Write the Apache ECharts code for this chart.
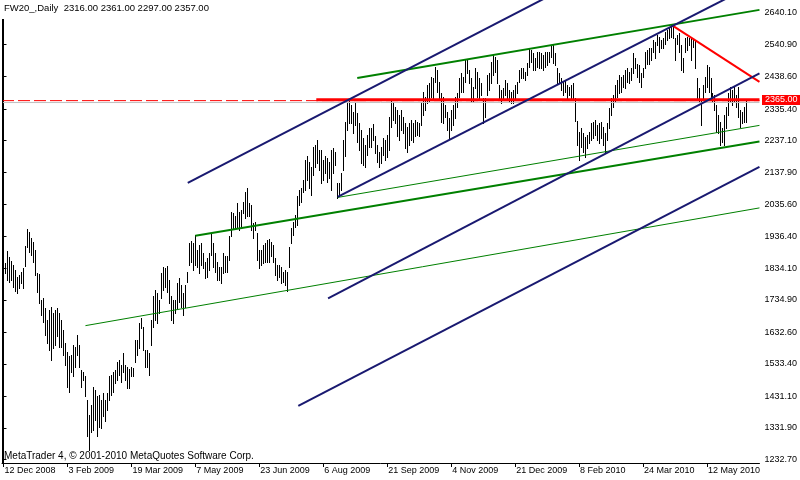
<!DOCTYPE html>
<html>
<head>
<meta charset="utf-8">
<script src="https://cdn.jsdelivr.net/npm/echarts@6/dist/echarts.min.js"></script>
<style>
  html, body { margin: 0; padding: 0; background: #fff; }
  #chart { width: 800px; height: 480px; }
</style>
</head>
<body>
<div id="chart"></div>
<script>
// daily bars FW20, high / low per bar (bar 0 = 12 Dec 2008)
const highs = [
  1832, 1850, 1890, 1869, 1859, 1845, 1830, 1808, 1814, 1824,
  1835, 1905, 1958, 1950, 1929, 1919, 1892, 1819, 1816, 1735,
  1740, 1709, 1672, 1704, 1714, 1693, 1704, 1709, 1693, 1672,
  1641, 1599, 1572, 1557, 1562, 1593, 1588, 1625, 1593, 1515,
  1509, 1494, 1420, 1373, 1404, 1462, 1452, 1431, 1436, 1420,
  1441, 1420, 1441, 1494, 1499, 1509, 1515, 1541, 1546, 1530,
  1567, 1530, 1525, 1517, 1525, 1520, 1609, 1609, 1662, 1677,
  1651, 1578, 1578, 1567, 1672, 1746, 1767, 1756, 1735, 1819,
  1840, 1835, 1842, 1798, 1746, 1735, 1735, 1788, 1803, 1782,
  1756, 1782, 1824, 1915,
  1922, 1914, 1940, 1893, 1908, 1914, 1882, 1856, 1866, 1882,
  1945, 1914, 1882, 1856, 1840, 1840, 1882, 1872, 1872, 1935,
  2013, 2008, 1998, 2040, 2013, 2019, 2045, 2076, 2087, 2040,
  2034, 1977, 1982, 1945, 1893, 1893, 1908, 1914, 1924, 1926,
  1919, 1908, 1866, 1845, 1845, 1840, 1824, 1830, 1824, 1903,
  1961, 1982, 2003, 2061, 2082, 2087, 2113, 2176, 2187, 2171,
  2155, 2218, 2223, 2239, 2208, 2208, 2176, 2187, 2181, 2171,
  2208, 2213, 2202, 2103, 2103, 2134, 2239, 2297, 2355, 2365,
  2349, 2328, 2355, 2323, 2292, 2271, 2244, 2223, 2255, 2276,
  2276, 2290,
  2250, 2223, 2202, 2218, 2244, 2239, 2255, 2313, 2365, 2360,
  2344, 2334, 2318, 2334, 2313, 2292, 2281, 2292, 2302, 2292,
  2302, 2297, 2292, 2360, 2391, 2376, 2412, 2418, 2438, 2433,
  2470, 2460, 2423, 2386, 2376, 2349, 2328, 2307, 2334, 2349,
  2376, 2386, 2433, 2449, 2438, 2491, 2491, 2460, 2433, 2407,
  2465, 2454, 2433, 2418, 2370, 2370, 2444, 2449, 2486, 2507,
  2502, 2491, 2412, 2397, 2402, 2428, 2418, 2397, 2391, 2397,
  2412, 2423, 2460, 2465, 2465, 2454, 2481, 2528, 2522, 2512,
  2496, 2517, 2517, 2512, 2507, 2517, 2517, 2517, 2538, 2538,
  2512, 2465, 2449,
  2433, 2423, 2428, 2412, 2407, 2412, 2417, 2370, 2299, 2265,
  2276, 2260, 2249, 2255, 2265, 2291, 2297, 2302, 2286, 2291,
  2297, 2281, 2260, 2291, 2339, 2370, 2381, 2412, 2428, 2444,
  2438, 2444, 2459, 2465, 2454, 2465, 2512, 2496, 2480, 2475,
  2449, 2465, 2517, 2522, 2528, 2528, 2554, 2549, 2570, 2564,
  2554, 2559, 2580, 2585, 2596, 2601, 2596, 2559, 2570, 2575,
  2538, 2496, 2559, 2564, 2559, 2564, 2554, 2554, 2433, 2402,
  2365, 2412, 2438, 2475, 2470, 2433, 2386, 2381, 2349, 2318,
  2297, 2276, 2318, 2344, 2386, 2407, 2396, 2407, 2381, 2407,
  2333, 2328, 2344, 2361
];
const lows = [
  1783, 1819, 1798, 1793, 1798, 1777, 1763, 1756, 1772, 1788,
  1772, 1842, 1903, 1887, 1877, 1856, 1814, 1761, 1725, 1688,
  1667, 1625, 1599, 1578, 1546, 1583, 1593, 1620, 1588, 1588,
  1562, 1530, 1462, 1446, 1509, 1494, 1525, 1562, 1525, 1462,
  1483, 1431, 1305, 1263, 1320, 1326, 1357, 1305, 1336, 1331,
  1368, 1352, 1389, 1420, 1436, 1446, 1473, 1483, 1499, 1478,
  1509, 1483, 1457, 1457, 1494, 1494, 1541, 1562, 1583, 1646,
  1578, 1525, 1525, 1499, 1593, 1651, 1672, 1662, 1693, 1740,
  1767, 1777, 1761, 1725, 1672, 1662, 1693, 1709, 1730, 1714,
  1688, 1714, 1793, 1845,
  1856, 1830, 1845, 1840, 1819, 1845, 1835, 1803, 1808, 1830,
  1877, 1840, 1824, 1798, 1798, 1788, 1819, 1824, 1824, 1861,
  1935, 1961, 1961, 1966, 1956, 1966, 2008, 1992, 1998, 1998,
  1956, 1929, 1956, 1861, 1835, 1845, 1850, 1856, 1856, 1856,
  1872, 1856, 1814, 1798, 1808, 1788, 1793, 1782, 1764, 1840,
  1914, 1940, 1966, 1971, 2034, 2045, 2076, 2082, 2113, 2087,
  2066, 2129, 2155, 2166, 2145, 2103, 2113, 2134, 2108, 2118,
  2082, 2134, 2160, 2055, 2061, 2082, 2145, 2187, 2271, 2292,
  2292, 2260, 2286, 2234, 2208, 2166, 2160, 2155, 2192, 2218,
  2218, 2240,
  2197, 2171, 2155, 2166, 2192, 2176, 2186, 2208, 2281, 2302,
  2292, 2250, 2239, 2271, 2260, 2213, 2202, 2223, 2239, 2234,
  2250, 2255, 2250, 2286, 2318, 2334, 2354, 2360, 2376, 2370,
  2423, 2391, 2370, 2297, 2292, 2313, 2271, 2244, 2271, 2286,
  2307, 2344, 2376, 2391, 2391, 2423, 2449, 2418, 2360, 2360,
  2402, 2376, 2365, 2381, 2292, 2313, 2381, 2397, 2418, 2444,
  2454, 2418, 2365, 2355, 2365, 2381, 2365, 2360, 2355, 2355,
  2370, 2386, 2423, 2433, 2433, 2428, 2444, 2470, 2486, 2460,
  2460, 2470, 2465, 2465, 2460, 2470, 2475, 2486, 2502, 2481,
  2475, 2418, 2418,
  2396, 2381, 2391, 2370, 2381, 2370, 2370, 2299, 2223, 2176,
  2218, 2202, 2186, 2213, 2228, 2239, 2244, 2255, 2239, 2228,
  2244, 2223, 2197, 2239, 2276, 2318, 2344, 2360, 2375, 2386,
  2391, 2407, 2402, 2423, 2417, 2428, 2449, 2465, 2438, 2423,
  2407, 2438, 2465, 2480, 2480, 2491, 2517, 2496, 2538, 2517,
  2528, 2528, 2543, 2554, 2559, 2564, 2559, 2491, 2543, 2517,
  2459, 2454, 2517, 2522, 2538, 2491, 2533, 2465, 2365, 2360,
  2286, 2365, 2391, 2407, 2391, 2370, 2360, 2333, 2265, 2260,
  2223, 2234, 2223, 2276, 2318, 2360, 2349, 2360, 2344, 2312,
  2281, 2291, 2297, 2297
];

// date labels, one every 32 bars
const dateLabels = ['12 Dec 2008', '3 Feb 2009', '19 Mar 2009', '7 May 2009', '23 Jun 2009', '6 Aug 2009',
  '21 Sep 2009', '4 Nov 2009', '21 Dec 2009', '8 Feb 2010', '24 Mar 2010', '12 May 2010'];
const priceTicks = [2640.1, 2540.9, 2438.6, 2335.4, 2237.1, 2137.9, 2035.6, 1936.4,
  1834.1, 1734.9, 1632.6, 1533.4, 1431.1, 1331.9, 1232.7];

// trend lines: [bar, price] anchors
const navyLines = [
  [[92.2, 2104], [275, 2699]],
  [[167.2, 2060], [378.25, 2738]],
  [[162.4, 1740], [378.25, 2449]],
  [[147.5, 1401], [378.25, 2154]]
];
const greenThick = [
  [[177, 2434], [378.25, 2649]],
  [[96, 1937], [378.25, 2234]]
];
const greenThin = [
  [[167.2, 2058], [378.25, 2285]],
  [[41, 1654], [378.25, 2025]]
];
const redDown = [[334.4, 2601], [378.25, 2422]];
const redThick = [[156.5, 2366], [378.25, 2366]];
const redDashLevel = 2363;
const alertPrice = 2365;
const bidPrice = 2357;

const X_MIN = -0.75, X_MAX = 378.25;

const chart = echarts.init(document.getElementById('chart'));

function trend(data, color, width, type) {
  return {
    type: 'line',
    data: data,
    symbol: 'none',
    silent: true,
    animation: false,
    z: 5,
    lineStyle: { color: color, width: width, type: type || 'solid' }
  };
}

const series = [
  trend([[X_MIN, bidPrice], [X_MAX, bidPrice]], '#c0c0c0', 1),
  {
    type: 'custom',
    z: 3,
    animation: false,
    silent: true,
    data: highs.map((h, i) => [i, h, lows[i]]),
    encode: { x: 0, y: [1, 2] },
    renderItem: function (params, api) {
      const i = api.value(0);
      const top = api.coord([i, api.value(1)]);
      const bot = api.coord([i, api.value(2)]);
      const x = Math.floor(top[0]) + 0.5;
      return {
        type: 'line',
        shape: { x1: x, y1: Math.round(top[1]), x2: x, y2: Math.round(bot[1]) + 1 },
        style: { stroke: '#000', lineWidth: 1 }
      };
    }
  },
  trend([[X_MIN, redDashLevel], [X_MAX, redDashLevel]], '#ff0000', 1, [12, 4]),
  trend(redThick, '#ff0000', 3),
  trend(redDown, '#ff0000', 2)
];
greenThin.forEach(l => series.push(trend(l, '#008000', 1)));
greenThick.forEach(l => series.push(trend(l, '#008000', 2)));
navyLines.forEach(l => series.push(trend(l, '#191970', 2)));

const option = {
  backgroundColor: '#fff',
  animation: false,
  grid: { left: 2, right: 40, top: 0, bottom: 17 },
  xAxis: {
    type: 'value',
    min: X_MIN,
    max: X_MAX,
    splitLine: { show: false },
    axisLine: { show: true, lineStyle: { color: '#000' } },
    axisTick: { show: true, length: 4, lineStyle: { color: '#000' }, customValues: dateLabels.map((d, k) => k * 32) },
    axisLabel: {
      customValues: dateLabels.map((d, k) => k * 32),
      formatter: v => dateLabels[Math.round(v / 32)],
      align: 'left',
      margin: 3,
      padding: [0, 0, 0, 1],
      color: '#000',
      fontFamily: 'Liberation Sans',
      fontSize: 9
    }
  },
  yAxis: {
    type: 'value',
    position: 'right',
    min: 1221.2,
    max: 2680.1,
    splitLine: { show: false },
    axisLine: { show: true, lineStyle: { color: '#000' } },
    axisTick: { show: true, length: 3, lineStyle: { color: '#000' }, customValues: priceTicks },
    axisLabel: {
      customValues: priceTicks,
      formatter: v => v.toFixed(2),
      margin: 5,
      color: '#000',
      fontFamily: 'Liberation Sans',
      fontSize: 9
    }
  },
  series: series
};
chart.setOption(option);

// header, copyright, left frame and the price label of the alert level
const ay = chart.convertToPixel({ yAxisIndex: 0 }, alertPrice);
chart.setOption({
  graphic: [
    {
      type: 'line', z: 90,
      shape: { x1: 2.5, y1: 19, x2: 2.5, y2: 463 },
      style: { stroke: '#000', lineWidth: 1 }
    },
    {
      type: 'rect', left: 0, top: 0, z: 100,
      shape: { width: 212, height: 19 },
      style: { fill: '#fff' }
    },
    {
      type: 'text', left: 4, top: 3, z: 101,
      style: { text: 'FW20_,Daily  2316.00 2361.00 2297.00 2357.00', fill: '#000', font: '9.5px "Liberation Sans"' }
    },
    {
      type: 'text', left: 4, top: 451, z: 101,
      style: { text: 'MetaTrader 4, \u00a9 2001-2010 MetaQuotes Software Corp.', fill: '#000', font: '10px "Liberation Sans"' }
    },
    {
      type: 'rect', left: 762, top: Math.round(ay) - 5, z: 100,
      shape: { width: 38, height: 10 },
      style: { fill: '#ff0000' }
    },
    {
      type: 'text', left: 765, top: Math.round(ay) - 5, z: 101,
      style: { text: alertPrice.toFixed(2), fill: '#fff', font: '9px "Liberation Sans"' }
    }
  ]
});
</script>
</body>
</html>
